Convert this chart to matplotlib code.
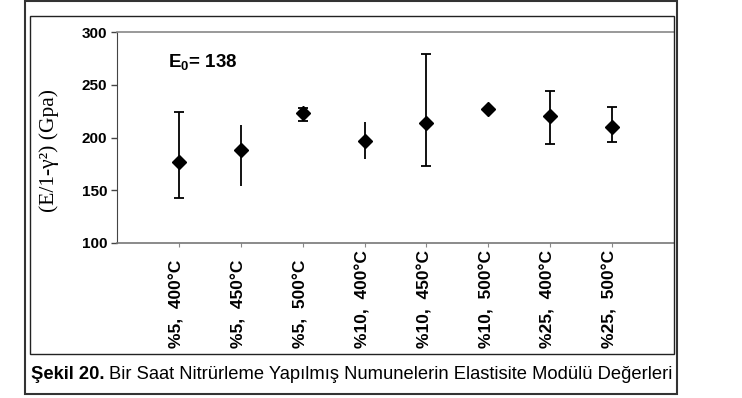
import numpy as np
import matplotlib.pyplot as plt
from matplotlib.patches import Rectangle
from matplotlib import font_manager

# Numune grupları (azot oranı, sıcaklık)
kategoriler = ["%5,  400°C", "%5,  450°C", "%5,  500°C", "%10,  400°C",
               "%10,  450°C", "%10,  500°C", "%25,  400°C", "%25,  500°C"]
# E/(1-γ²) ortalama değerleri ve hata sınırları (GPa)
ortalama = [177, 188, 223, 197, 214, 227, 220, 210]
alt_sinir = [143, 154, 216, 180, 173, 227, 194, 196]
ust_sinir = [224, 212, 228, 215, 279, 227, 244, 229]
# nitrürlenmemiş numune
E0 = 138

y_ticks = [100, 150, 200, 250, 300]

# hata çubuklarının uç çizgileri (bazılarında yok)
kapak = [3, 0, 3, 0, 3, 0, 3, 3]

mevcut = {f.name for f in font_manager.fontManager.ttflist}
dar_font = "Liberation Sans Narrow" if "Liberation Sans Narrow" in mevcut else "Liberation Sans"

plt.rcParams['font.family'] = ['Liberation Sans', 'DejaVu Sans']
plt.rcParams['mathtext.fontset'] = 'custom'
plt.rcParams['mathtext.rm'] = 'Liberation Sans'
plt.rcParams['mathtext.bf'] = 'Liberation Sans:bold'

W, H = 742, 398
fig = plt.figure(figsize=(W / 100, H / 100), dpi=100)
fig.patch.set_facecolor('white')

# dış ve iç çerçeve
fig.add_artist(Rectangle((25 / W, 1 - 394 / H), 652 / W, 393 / H, transform=fig.transFigure,
                         fill=False, lw=1.5, ec='#333333'))
fig.add_artist(Rectangle((30 / W, 1 - 354 / H), 644 / W, 338 / H, transform=fig.transFigure,
                         fill=False, lw=1.0, ec='#222222'))

ax = fig.add_axes([117 / W, 1 - 243 / H, 557 / W, 211 / H])
x = np.arange(1, len(kategoriler) + 1)

for xi, m, lo, hi, c in zip(x, ortalama, alt_sinir, ust_sinir, kapak):
    ax.errorbar(xi, m, yerr=[[m - lo], [hi - m]], fmt='D', ms=6.8, color='black',
                ecolor='black', elinewidth=1.3, capsize=c * 1.2, capthick=1.3)

ax.set_xlim(0, 9)
ax.set_ylim(100, 300)
ax.set_yticks(y_ticks)
ax.set_yticklabels([str(v) for v in y_ticks], fontsize=11, fontweight='bold')
ax.set_xticks(x)
ax.set_xticklabels([])

# kategori etiketleri alttan hizalı, dikey
for xi, etiket in zip(x, kategoriler):
    ax.text(xi - 0.03, -0.50, etiket, transform=ax.get_xaxis_transform(), rotation=90,
            rotation_mode='anchor', ha='left', va='center', fontsize=12.5,
            fontweight='bold')

ax.tick_params(axis='y', direction='out', length=4, width=1, color='#444444', pad=3)
ax.tick_params(axis='x', direction='out', length=3, width=0.8, color='#888888')

ax.spines['right'].set_visible(False)
ax.spines['top'].set_color('#888888')
ax.spines['top'].set_linewidth(1.2)
ax.spines['left'].set_color('#444444')
ax.spines['bottom'].set_color('#777777')
ax.spines['bottom'].set_linewidth(1.2)

ax.set_ylabel("(E/1-γ²) (Gpa)", family=['Liberation Serif', 'DejaVu Serif'], fontsize=15.5)
ax.yaxis.set_label_coords(-0.104, 0.44)

ax.text(0.82, 281, r"$\mathbf{E_0}$" + f"= {E0}", fontsize=13.5, fontweight='bold',
        va='top', ha='left')

# alt yazı: kalın "Şekil 20." ve ardından normal metin
fig.canvas.draw()
r = fig.canvas.get_renderer()
t1 = fig.text(31 / W, 19 / H, "Şekil 20.", family=[dar_font, 'DejaVu Sans'],
              fontsize=13.2, fontweight='bold', va='baseline', ha='left')
bb = t1.get_window_extent(renderer=r)
fig.text(bb.x1 / W + 4 / W, 19 / H,
         "Bir Saat Nitrürleme Yapılmış Numunelerin Elastisite Modülü Değerleri",
         family=[dar_font, 'DejaVu Sans'], fontsize=13.2, va='baseline', ha='left')

fig.savefig("out.png", dpi=100)
